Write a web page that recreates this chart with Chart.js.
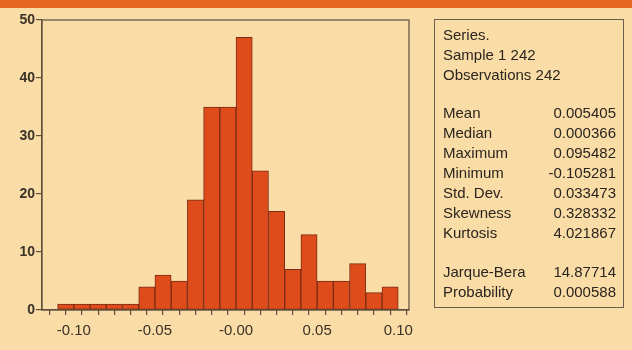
<!DOCTYPE html>
<html>
<head>
<meta charset="utf-8">
<script src="https://cdn.jsdelivr.net/npm/chart.js@4/dist/chart.umd.min.js"></script>
<style>
  body { margin: 0; width: 632px; height: 350px; background: #fadca6; position: relative; overflow: hidden; font-family: 'Liberation Sans', Arial, sans-serif; }
  #band { position: absolute; left: 0; top: 0; width: 632px; height: 8px; background: #e6671f; }
  #wrap { position: absolute; left: 0; top: 0; width: 632px; height: 350px; }
  #stats { position: absolute; left: 434px; top: 19px; width: 173px; height: 282px; padding: 5px 7px 0 8px; border: 1px solid #6e6050; color: #2a251f; font-size: 15px; }
  #stats .row { height: 20px; line-height: 20px; display: flex; justify-content: space-between; white-space: nowrap; }
  #stats .gap { height: 18px; }
  #stats .gap2 { height: 19px; }
</style>
</head>
<body>
<div id="band"></div>
<div id="wrap"><canvas id="histChart" width="632" height="350"></canvas></div>
<div id="stats"></div>
<script>
// histogram bins (centres, width 0.01) and counts
const binCenters = [-0.105, -0.095, -0.085, -0.075, -0.065, -0.055, -0.045, -0.035, -0.025, -0.015, -0.005,
                    0.005, 0.015, 0.025, 0.035, 0.045, 0.055, 0.065, 0.075, 0.085, 0.095];
const counts = [1, 1, 1, 1, 1, 4, 6, 5, 19, 35, 35, 47, 24, 17, 7, 13, 5, 5, 8, 3, 4];

// x axis: a tick mark at every bin edge, labels only at the majors
const xTickValues = [-0.11, -0.10, -0.09, -0.08, -0.07, -0.06, -0.05, -0.04, -0.03, -0.02, -0.01,
                     0.00, 0.01, 0.02, 0.03, 0.04, 0.05, 0.06, 0.07, 0.08, 0.09, 0.10];
const xLabelValues = [-0.10, -0.05, 0.00, 0.05, 0.10];
const xLabels = ['-0.10', '-0.05', '-0.00', '0.05', '0.10'];
const yTicks = [0, 10, 20, 30, 40, 50];

// statistics box
const headerLines = ['Series.', 'Sample 1 242', 'Observations 242'];
const statNames = ['Mean', 'Median', 'Maximum', 'Minimum', 'Std. Dev.', 'Skewness', 'Kurtosis'];
const statValues = ['0.005405', '0.000366', '0.095482', '-0.105281', '0.033473', '0.328332', '4.021867'];
const testNames = ['Jarque-Bera', 'Probability'];
const testValues = ['14.87714', '0.000588'];

const statsBox = document.getElementById('stats');
function addRow(name, value) {
    const row = document.createElement('div');
    row.className = 'row';
    const a = document.createElement('span');
    a.textContent = name;
    row.appendChild(a);
    if (value !== undefined) {
        const b = document.createElement('span');
        b.textContent = value;
        row.appendChild(b);
    }
    statsBox.appendChild(row);
}
function addGap(cls) {
    const g = document.createElement('div');
    g.className = cls;
    statsBox.appendChild(g);
}
headerLines.forEach(t => addRow(t));
addGap('gap');
statNames.forEach((n, i) => addRow(n, statValues[i]));
addGap('gap2');
testNames.forEach((n, i) => addRow(n, testValues[i]));

const lineColor = '#5e4e3e';

// frame around the plot area (top and right sides)
const framePlugin = {
    id: 'frame',
    afterDraw(chart) {
        const { ctx, chartArea: a } = chart;
        ctx.save();
        ctx.strokeStyle = lineColor;
        ctx.lineWidth = 1.2;
        ctx.strokeRect(a.left, a.top, a.right - a.left, a.bottom - a.top);
        ctx.restore();
    }
};

const ctx = document.getElementById('histChart').getContext('2d');
new Chart(ctx, {
    type: 'bar',
    data: {
        datasets: [{
            label: 'Series',
            data: binCenters.map((x, i) => ({ x: x, y: counts[i] })),
            backgroundColor: '#dd4c1a',
            borderColor: '#7a2c14',
            borderWidth: 1,
            barPercentage: 1,
            categoryPercentage: 1,
            borderSkipped: false
        }]
    },
    options: {
        responsive: false,
        animation: false,
        layout: { padding: { top: 20, right: 223, left: 0, bottom: 0 } },
        plugins: {
            legend: { display: false },
            tooltip: { enabled: false }
        },
        scales: {
            x: {
                type: 'linear',
                min: -0.1145,
                max: 0.1015,
                afterBuildTicks: scale => { scale.ticks = xTickValues.map(v => ({ value: v })); },
                afterFit: scale => { scale.height = 40; },
                grid: { display: true, drawOnChartArea: false, drawTicks: true, tickLength: 5, tickColor: lineColor, lineWidth: 1.2 },
                border: { display: true, color: lineColor, width: 1.2 },
                ticks: {
                    autoSkip: false,
                    maxRotation: 0,
                    padding: 7,
                    color: '#3a3128',
                    font: { family: "'Liberation Sans', Arial, sans-serif", size: 15 },
                    callback: value => {
                        const k = xLabelValues.findIndex(p => Math.abs(p - value) < 1e-9);
                        return k >= 0 ? xLabels[k] : '';
                    }
                }
            },
            y: {
                min: 0,
                max: 50,
                afterBuildTicks: scale => { scale.ticks = yTicks.map(v => ({ value: v })); },
                afterFit: scale => { scale.width = 42; },
                grid: { display: true, drawOnChartArea: false, drawTicks: true, tickLength: 6, tickColor: lineColor, lineWidth: 1.2 },
                border: { display: true, color: lineColor, width: 1.2 },
                ticks: {
                    padding: 1,
                    color: '#3a3128',
                    font: { family: "'Liberation Sans', Arial, sans-serif", size: 14, weight: 'bold' }
                }
            }
        }
    },
    plugins: [framePlugin]
});
</script>
</body>
</html>
